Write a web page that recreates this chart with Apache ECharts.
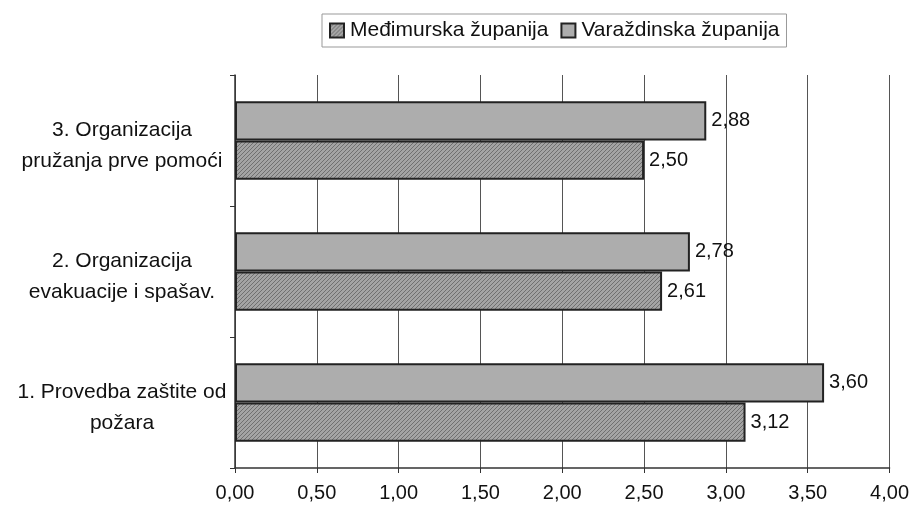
<!DOCTYPE html>
<html><head><meta charset="utf-8">
<script src="https://cdn.jsdelivr.net/npm/echarts@6/dist/echarts.min.js"></script>
<style>html,body{margin:0;padding:0;background:#fff}#c{width:912px;height:511px}</style>
</head><body><div id="c"></div>
<script>
const categories = ['1. Provedba zaštite od\npožara', '2. Organizacija\nevakuacije i spašav.', '3. Organizacija\npružanja prve pomoći'];
const seriesNames = ['Međimurska županija', 'Varaždinska županija'];
const medimurska = [3.12, 2.61, 2.50];
const varazdinska = [3.60, 2.78, 2.88];
const xTicks = [0, 0.5, 1, 1.5, 2, 2.5, 3, 3.5, 4];

function hatch() {
  const c = document.createElement('canvas');
  c.width = 4; c.height = 4;
  const g = c.getContext('2d');
  g.fillStyle = '#a4a4a4'; g.fillRect(0, 0, 4, 4);
  g.strokeStyle = '#707070'; g.lineWidth = 1;
  g.beginPath(); g.moveTo(0, 4); g.lineTo(4, 0); g.stroke();
  g.beginPath(); g.moveTo(-1, 1); g.lineTo(1, -1); g.stroke();
  g.beginPath(); g.moveTo(3, 5); g.lineTo(5, 3); g.stroke();
  return c;
}
const fmt = v => v.toFixed(2).replace('.', ',');
const font = 'Liberation Sans, Arial, sans-serif';
const chart = echarts.init(document.getElementById('c'));
const lbl = { show: true, position: 'right', distance: 5, fontSize: 20, color: '#111', fontFamily: font, formatter: p => fmt(p.value) };
chart.setOption({
  animation: false,
  textStyle: { fontFamily: font },
  legend: {
    top: 14, left: 322,
    padding: [6, 7], itemGap: 12,
    borderColor: '#999', borderWidth: 1,
    itemWidth: 14, itemHeight: 14, icon: 'rect',
    textStyle: { fontSize: 21, color: '#111', fontFamily: font, padding: [0, 0, 0, 1] },
    data: seriesNames
  },
  grid: { left: 235, right: 19, top: 75, bottom: 43 },
  xAxis: {
    type: 'value', min: 0, max: 4, interval: 0.5,
    axisLine: { show: true, lineStyle: { color: '#333', width: 1.5 } },
    axisTick: { show: true, length: 5, lineStyle: { color: '#333' } },
    splitLine: { show: true, lineStyle: { color: '#555', width: 1 } },
    axisLabel: { fontSize: 20, color: '#111', margin: 15, formatter: v => fmt(v) }
  },
  yAxis: {
    type: 'category', data: categories,
    axisLine: { show: true, lineStyle: { color: '#333', width: 1.5 } },
    axisTick: { show: true, length: 5, lineStyle: { color: '#333' } },
    axisLabel: {
      color: '#111', align: 'center', margin: 113,
      formatter: v => '{s| }\n' + v.split('\n').map(s => '{a|' + s + '}').join('\n'),
      rich: {
        s: { fontSize: 1, lineHeight: 10, height: 10 },
        a: { fontSize: 21, lineHeight: 31, color: '#111', fontFamily: font, align: 'center' }
      }
    }
  },
  series: [
    {
      name: seriesNames[1], type: 'bar', data: varazdinska,
      barGap: '0%', barCategoryGap: '40%',
      itemStyle: { color: '#adadad', borderColor: '#222', borderWidth: 2 },
      label: lbl
    },
    {
      name: seriesNames[0], type: 'bar', data: medimurska,
      barGap: '0%', barCategoryGap: '40%',
      itemStyle: { color: { image: hatch(), repeat: 'repeat' }, borderColor: '#222', borderWidth: 2 },
      label: lbl
    }
  ]
});
</script></body></html>
